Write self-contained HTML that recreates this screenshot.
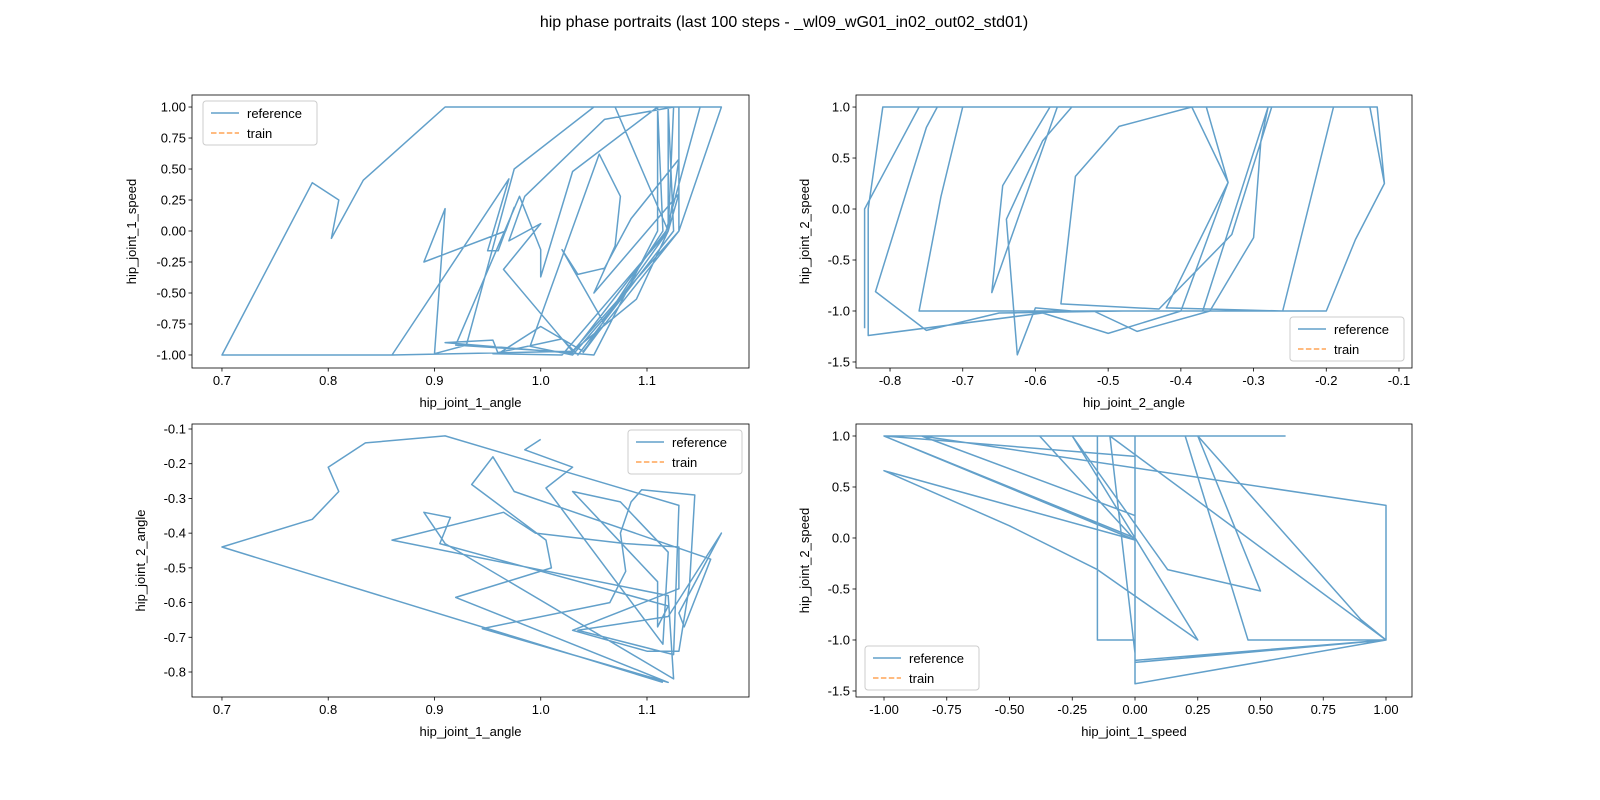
<!DOCTYPE html>
<html><head><meta charset="utf-8"><style>
body{margin:0;background:#fff;}
svg{display:block;font-family:"Liberation Sans","DejaVu Sans",sans-serif;}
</style></head><body>
<svg id="fig" width="1600" height="800" viewBox="0 0 1600 800">
<rect width="1600" height="800" fill="#fff"/>
<text x="784" y="27" font-size="16" text-anchor="middle">hip phase portraits (last 100 steps - _wl09_wG01_in02_out02_std01)</text>
</svg>
<script>
// Panel 1: hip_joint_1_angle vs hip_joint_1_speed
const p1x = [0.86,0.70,0.785,0.81,0.803,0.833,0.91,1.11,1.11,1.05,0.91,0.955,0.96,1.00,1.04,1.13,1.13,1.17,1.13,1.03,0.86,0.97,0.95,0.96,0.975,0.967,0.89,0.91,0.90,0.93,0.975,1.05,1.12,1.12,1.02,0.955,1.02,1.035,1.125,1.12,1.15,1.118,1.03,0.92,0.98,1.0,1.0,1.03,1.11,1.115,1.04,1.06,1.02,1.035,1.06,1.085,1.13,1.12,1.09,1.03,0.965,1.00,0.97,0.985,1.06,1.125,1.12,1.07,1.03,0.99,1.055,1.075,1.07,1.05,1.09,1.13,1.12,1.07];
const p1y = [-1,-1,0.39,0.25,-0.06,0.41,1.0,1.0,0.0,-1.0,-0.90,-0.88,-0.99,-0.77,-0.97,0.0,1.0,1.0,0.0,-0.97,-1.0,0.42,-0.16,-0.16,0.19,0.0,-0.25,0.18,-0.99,-0.92,0.5,1.0,1.0,0.0,-1.0,-0.99,-0.87,-1.0,0.0,1.0,1.0,0.0,-0.98,-0.92,0.28,-0.15,-0.37,0.48,1.0,0.0,-0.98,-0.75,-0.15,-0.35,-0.3,0.1,0.58,0.0,-0.55,-0.97,-0.31,0.06,-0.08,0.28,0.9,1.0,0.0,-0.6,-1.0,-0.93,0.62,0.28,-0.12,-0.5,-0.1,0.3,0.0,1.0];
// Panel 2: hip_joint_2_angle vs hip_joint_2_speed
const p2x = [-0.835,-0.835,-0.76,-0.13,-0.12,-0.16,-0.20,-0.48,-0.65,-0.75,-0.82,-0.75,-0.735,-0.28,-0.29,-0.30,-0.32,-0.36,-0.46,-0.52,-0.76,-0.73,-0.70,-0.365,-0.335,-0.40,-0.50,-0.59,-0.83,-0.83,-0.81,-0.57,-0.66,-0.645,-0.58,-0.28,-0.37,-0.55,-0.60,-0.625,-0.64,-0.59,-0.55,-0.275,-0.33,-0.43,-0.565,-0.545,-0.485,-0.385,-0.335,-0.42,-0.26,-0.19,-0.14,-0.12];
const p2y = [-1.17,0.0,1.0,1.0,0.25,-0.30,-1.0,-1.0,-1.02,-1.19,-0.81,0.80,1.0,1.0,0.66,-0.28,-0.52,-1.0,-1.2,-1.0,-1.0,0.12,1.0,1.0,0.26,-1.0,-1.22,-1.02,-1.24,0.0,1.0,1.0,-0.82,0.23,1.0,1.0,-1.0,-1.0,-0.97,-1.43,-0.1,0.67,1.0,1.0,-0.25,-0.98,-0.93,0.32,0.81,1.0,0.26,-0.97,-1.0,1.0,1.0,0.25];
// Panel 3: hip_joint_1_angle vs hip_joint_2_angle
const p3x = [1.115,0.785,0.70,0.785,0.81,0.80,0.835,0.91,1.13,1.125,1.035,1.12,1.17,1.13,1.135,1.16,0.975,0.955,0.935,0.97,1.005,1.01,0.92,1.12,0.945,1.065,1.08,1.075,1.085,1.095,1.145,1.14,1.13,1.10,1.03,1.13,1.13,1.08,0.995,0.965,0.86,1.12,1.125,0.91,0.89,0.915,0.905,1.12,1.11,1.11,1.03,1.075,1.12,1.115,1.005,1.03,0.985,1.00];
const p3y = [-0.83,-0.52,-0.44,-0.36,-0.28,-0.21,-0.14,-0.12,-0.32,-0.75,-0.68,-0.64,-0.40,-0.63,-0.67,-0.475,-0.28,-0.18,-0.26,-0.34,-0.42,-0.50,-0.585,-0.83,-0.675,-0.60,-0.51,-0.40,-0.31,-0.275,-0.29,-0.55,-0.74,-0.74,-0.68,-0.56,-0.44,-0.43,-0.40,-0.34,-0.42,-0.58,-0.82,-0.43,-0.34,-0.355,-0.43,-0.61,-0.67,-0.54,-0.28,-0.31,-0.455,-0.72,-0.27,-0.21,-0.16,-0.13];
// Panel 4: hip_joint_1_speed vs hip_joint_2_speed
const p4x = [0.6,-1.0,0.0,0.0,1.0,1.0,-0.85,0.0,0.0,-0.15,-0.15,0.0,0.2,0.45,1.0,-0.1,0.0,0.0,-0.38,0.0,-1.0,-0.5,-0.15,0.25,-0.25,0.13,0.5,0.25,0.9,1.0,0.0,0.0,-1.0,0.0,0.0,1.0];
const p4y = [1.0,1.0,-0.02,-1.22,-1.0,0.32,1.0,0.22,-1.0,-1.0,1.0,1.0,1.0,-1.0,-1.0,1.0,-1.13,1.0,1.0,-0.02,0.66,0.12,-0.31,-1.0,1.0,-0.31,-0.52,1.0,-0.8,-1.0,-1.43,0.8,1.0,0.0,-1.2,-1.0];
// tick labels
const ticksAngle1 = ["0.7","0.8","0.9","1.0","1.1"];
const ticksSpeed1 = ["-1.00","-0.75","-0.50","-0.25","0.00","0.25","0.50","0.75","1.00"];
const ticksAngle2 = ["-0.8","-0.7","-0.6","-0.5","-0.4","-0.3","-0.2","-0.1"];
const ticksSpeed2 = ["-1.5","-1.0","-0.5","0.0","0.5","1.0"];
const ticksAngle2v = ["-0.8","-0.7","-0.6","-0.5","-0.4","-0.3","-0.2","-0.1"];
const ticksSpeed1h = ["-1.00","-0.75","-0.50","-0.25","0.00","0.25","0.50","0.75","1.00"];

const NS="http://www.w3.org/2000/svg";
const svg=document.getElementById('fig');
function mk(tag,attrs,parent){const e=document.createElementNS(NS,tag);for(const k in attrs)e.setAttribute(k,attrs[k]);(parent||svg).appendChild(e);return e;}

const panels=[
 {name:'angle1-speed1',L:192,T:95,R:749,B:368,x0:0.6718,x1:1.196,y0:-1.105,y1:1.097,xs:p1x,ys:p1y,xt:ticksAngle1,yt:ticksSpeed1,xl:'hip_joint_1_angle',yl:'hip_joint_1_speed',ylx:136,leg:[203,101]},
 {name:'angle2-speed2',L:856,T:95,R:1412,B:368,x0:-0.8468,x1:-0.0821,y0:-1.559,y1:1.118,xs:p2x,ys:p2y,xt:ticksAngle2,yt:ticksSpeed2,xl:'hip_joint_2_angle',yl:'hip_joint_2_speed',ylx:809,leg:[1290,317]},
 {name:'angle1-angle2',L:192,T:424,R:749,B:697,x0:0.6718,x1:1.196,y0:-0.872,y1:-0.0856,xs:p3x,ys:p3y,xt:ticksAngle1,yt:ticksAngle2v,xl:'hip_joint_1_angle',yl:'hip_joint_2_angle',ylx:145,leg:[628,430]},
 {name:'speed1-speed2',L:856,T:424,R:1412,B:697,x0:-1.1116,x1:1.1036,y0:-1.559,y1:1.1176,xs:p4x,ys:p4y,xt:ticksSpeed1h,yt:ticksSpeed2,xl:'hip_joint_1_speed',yl:'hip_joint_2_speed',ylx:809,leg:[865,646]}
];

panels.forEach(p=>{
 const sx=v=>p.L+(v-p.x0)/(p.x1-p.x0)*(p.R-p.L);
 const sy=v=>p.B-(v-p.y0)/(p.y1-p.y0)*(p.B-p.T);
 const g=mk('g',{});
 
 
 const clipId='clip-'+p.name;
 const cp=mk('clipPath',{id:clipId},g);mk('rect',{x:p.L,y:p.T,width:p.R-p.L,height:p.B-p.T},cp);
 const pts=p.xs.map((v,i)=>sx(v).toFixed(1)+','+sy(p.ys[i]).toFixed(1)).join(' ');
 const line=mk('polyline',{points:pts,fill:'none',stroke:'#1f77b4','stroke-opacity':0.7,'stroke-width':1.5,'stroke-linejoin':'round','clip-path':'url(#'+clipId+')'},g);
 
 
 const frame=mk('rect',{x:p.L,y:p.T,width:p.R-p.L,height:p.B-p.T,fill:'none',stroke:'#000','stroke-width':0.8},g);
 
 
 p.xt.forEach(t=>{const X=sx(parseFloat(t));
  mk('line',{x1:X,x2:X,y1:p.B,y2:p.B+3.5,stroke:'#000','stroke-width':0.8},g);
  const tx=mk('text',{x:X,y:p.B+17,'font-size':13,'text-anchor':'middle'},g);tx.textContent=t;
  
  });
 p.yt.forEach(t=>{const Y=sy(parseFloat(t));
  mk('line',{x1:p.L-3.5,x2:p.L,y1:Y,y2:Y,stroke:'#000','stroke-width':0.8},g);
  const tx=mk('text',{x:p.L-6,y:Y+4.5,'font-size':13,'text-anchor':'end'},g);tx.textContent=t;
  
  });
 const xl=mk('text',{x:(p.L+p.R)/2,y:p.B+39,'font-size':13,'text-anchor':'middle'},g);xl.textContent=p.xl;
 
 
 const cy=(p.T+p.B)/2;
 const yl=mk('text',{x:p.ylx,y:cy,'font-size':13,'text-anchor':'middle',transform:'rotate(-90 '+p.ylx+' '+cy+')'},g);yl.textContent=p.yl;
 
 
 const [lx,ly]=p.leg;
 const lg=mk('g',{},g);
 
 
 mk('rect',{x:lx,y:ly,width:114,height:44,rx:3,fill:'#fff','fill-opacity':0.8,stroke:'#ccc','stroke-width':1},lg);
 mk('line',{x1:lx+8,x2:lx+36,y1:ly+12,y2:ly+12,stroke:'#1f77b4','stroke-opacity':0.7,'stroke-width':1.5},lg);
 const t1=mk('text',{x:lx+44,y:ly+17,'font-size':13},lg);t1.textContent='reference';
 
 
 mk('line',{x1:lx+8,x2:lx+36,y1:ly+32,y2:ly+32,stroke:'#ff7f0e','stroke-opacity':0.7,'stroke-width':1.5,'stroke-dasharray':'5.5,2.4'},lg);
 const t2=mk('text',{x:lx+44,y:ly+37,'font-size':13},lg);t2.textContent='train';
 
 
});
</script>
</body></html>
